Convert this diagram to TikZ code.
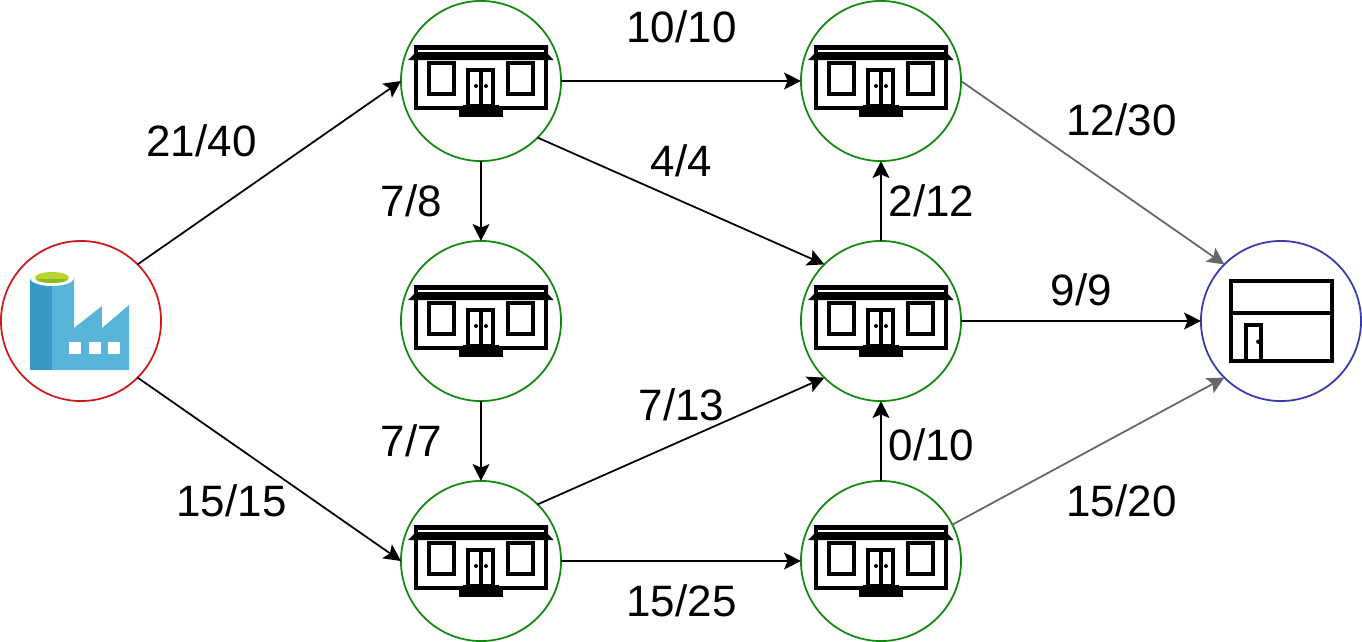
\documentclass[tikz,border=0pt]{standalone}
\usepackage{fontspec}
\setmainfont{Liberation Sans}
\usetikzlibrary{calc,arrows.meta}
\definecolor{factorylight}{HTML}{59B4D9}
\definecolor{factorydark}{HTML}{3999C6}
\definecolor{factorygreen}{HTML}{B8D432}
\definecolor{factorygreendark}{HTML}{8DBB1E}
\definecolor{housegreen}{HTML}{0F8A0F}
\definecolor{sourcered}{HTML}{D01818}
\definecolor{sinkblue}{HTML}{3838B0}
\definecolor{residual}{HTML}{666666}
\tikzset{
  station/.style={circle,draw,line width=0.5pt,minimum size=1.6cm,inner sep=0pt,outer sep=0pt},
  flow/.style={-{Stealth[length=4.8pt,width=4.8pt,inset=1pt]},line width=0.5pt,black},
  flowgray/.style={flow,residual},
  amount/.style={font=\fontsize{12.5}{14}\selectfont,inner sep=0pt,yshift=0.012cm,xshift=0.005cm},
  house/.pic={
    \fill (-67,-36) -- (67,-36) -- (67,-27) -- (72.5,-21) -- (-73,-21) -- (-67,-27) -- cycle;
    \fill[white] (-63,-31) rectangle (63,-28.7);
    \draw[line width=1.1pt] (-65,-22) -- (-65,27.3) -- (65,27.3) -- (65,-22);
    \draw[line width=1.1pt] (-52,-17.7) rectangle (-26.7,13);
    \draw[line width=1.1pt] (26.7,-17.7) rectangle (51.7,13);
    \draw[line width=1.1pt] (-12.7,-11) rectangle (12.3,25);
    \draw[line width=1.1pt] (0,-11) -- (0,25);
    \fill (-5,5) circle (2) (5,5) circle (2);
    \fill (-17.7,24) rectangle (18,27);
    \fill (-21.7,27) rectangle (22.3,36);
  }
}
\begin{document}
\begin{tikzpicture}[x=0.01cm,y=-0.01cm]
  \useasboundingbox (0,0) rectangle (1362,642);
  % factory
  \fill[factorylight] (52,278) -- (74,278) -- (74,328) -- (102,306) -- (102,328) -- (129,305) -- (129,370) -- (52,370) -- cycle;
  \fill[factorydark] (30,278) rectangle (52,370);
  \fill[factorylight] (52,278) rectangle (74,290);
  \fill[factorydark] (30,278) arc[start angle=180,end angle=360,x radius=22,y radius=-8] -- cycle;
  \fill[factorylight] (52,286) arc[start angle=270,end angle=360,x radius=22,y radius=8] -- (52,278) -- cycle;
  \fill[white] (52,278) ellipse[x radius=22,y radius=8];
  \fill[factorygreen] (52,277.5) ellipse[x radius=17,y radius=5.5];
  \fill[factorygreendark] (36,279) arc[start angle=180,end angle=360,x radius=16,y radius=-4] -- cycle;
  \foreach \x in {69,88.7,108} {
    \fill[white] (\x,342) rectangle ++(12,12);
  }
  \node[station,draw=sourcered] (source) at (81,321) {};
  % houses
  \foreach \name/\x/\y in {hub/481/81,north/881/81,middle/481/321,center/881/321,low/481/561,south/881/561} {
    \node[station,draw=housegreen] (\name) at (\x,\y) {};
    \pic at (\name) {house};
  }
  % shop
  \node[station,draw=sinkblue] (sink) at (1281,321) {};
  \draw[line width=1.15pt] (1230.7,280.7) rectangle (1331.7,361);
  \draw[line width=1.15pt] (1230.7,312.7) -- (1331.7,312.7);
  \draw[line width=1.15pt] (1246,361) -- (1246,325) -- (1261,325) -- (1261,361);
  \fill (1258.3,341.7) circle (2.2);
  % edges
  \draw[flow] (source.45) -- (hub.west);
  \draw[flow] (source.-45) -- (low.west);
  \draw[flow] (hub.east) -- (north.west);
  \draw[flow] (hub.-45) -- (center.135);
  \draw[flow] (hub.south) -- (middle.north);
  \draw[flow] (middle.south) -- (low.north);
  \draw[flow] (low.45) -- (center.-135);
  \draw[flow] (low.east) -- (south.west);
  \draw[flow] (center.north) -- (north.south);
  \draw[flow] (south.north) -- (center.south);
  \draw[flow] (center.east) -- (sink.west);
  \draw[flowgray] (north.east) -- (sink.135);
  \draw[flowgray] (south.27) -- (sink.-135);
  % labels
  \node[amount] (a1) at (201,142) {21/40};
  \node[amount] (a2) at (231,502) {15/15};
  \node[amount] (a3) at (681,28) {10/10};
  \node[amount] (a4) at (681,162) {4/4};
  \node[amount] (a5) at (411,202) {7/8};
  \node[amount] (a6) at (411,442) {7/7};
  \node[amount] (a7) at (681,406) {7/13};
  \node[amount] (a8) at (931,202) {2/12};
  \node[amount] (a9) at (931,446) {0/10};
  \node[amount] (a10) at (681,602) {15/25};
  \node[amount] (a11) at (1121,121) {12/30};
  \node[amount] (a12) at (1081,291) {9/9};
  \node[amount] (a13) at (1121,502) {15/20};
\end{tikzpicture}
\end{document}
